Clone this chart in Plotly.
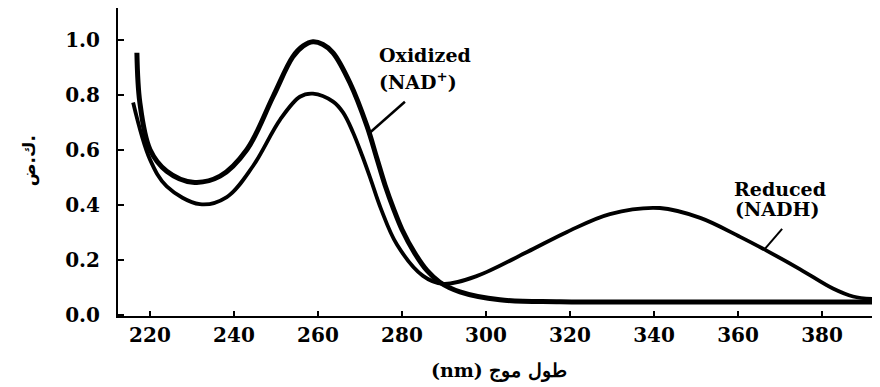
import plotly.graph_objects as go

# NAD+ (oxidized) absorption spectrum
nad_wl = [216.9, 217.6, 220.0, 224.0, 230.2, 236.7, 243.1, 249.3, 254.0, 256.5,
          258.8, 261.2, 263.6, 267.6, 271.7, 274.0, 276.0, 278.0, 280.0, 283.0,
          286.0, 289.0, 293.8, 303.3, 317.6, 351.0, 393.8]
nad_abs = [0.953, 0.772, 0.601, 0.522, 0.482, 0.504, 0.601, 0.793, 0.938, 0.978,
           0.993, 0.983, 0.953, 0.844, 0.685, 0.570, 0.470, 0.385, 0.310, 0.225,
           0.160, 0.118, 0.083, 0.054, 0.047, 0.046, 0.046]

# NADH (reduced) absorption spectrum
nadh_wl = [216.0, 220.0, 224.0, 231.9, 238.3, 244.5, 251.0, 255.7, 258.8, 263.6,
           266.0, 268.3, 270.5, 272.5, 275.0, 278.8, 285.0, 289.8, 297.9, 309.8,
           319.3, 329.5, 341.4, 351.0, 360.5, 366.9, 374.8, 382.6, 387.4, 393.8]
nadh_abs = [0.772, 0.565, 0.467, 0.402, 0.428, 0.540, 0.710, 0.793, 0.804, 0.775,
            0.735, 0.665, 0.580, 0.495, 0.385, 0.255, 0.141, 0.112, 0.141, 0.228,
            0.301, 0.366, 0.388, 0.352, 0.283, 0.232, 0.165, 0.095, 0.066, 0.055]

x_ticks = [220, 240, 260, 280, 300, 320, 340, 360, 380]
y_ticks = [0.0, 0.2, 0.4, 0.6, 0.8, 1.0]
y_tick_text = ["0.0", "0.2", "0.4", "0.6", "0.8", "1.0"]

FONT = "DejaVu Serif"

fig = go.Figure()
fig.add_trace(go.Scatter(x=nad_wl, y=nad_abs, mode="lines", name="Oxidized (NAD+)",
                         line=dict(color="black", width=5, shape="spline", smoothing=1.0)))
fig.add_trace(go.Scatter(x=nadh_wl, y=nadh_abs, mode="lines", name="Reduced (NADH)",
                         line=dict(color="black", width=3.8, shape="spline", smoothing=1.0)))

# leader lines for labels
fig.add_shape(type="line", x0=280.7, y0=0.775, x1=272.4, y1=0.663,
              line=dict(color="black", width=2.5), xref="x", yref="y")
fig.add_shape(type="line", x0=370.5, y0=0.312, x1=366.4, y1=0.239,
              line=dict(color="black", width=2), xref="x", yref="y")

lab_font = dict(family=FONT, size=19, color="black", weight="bold")
fig.add_annotation(x=285.5, y=0.946, text="Oxidized", showarrow=False, font=lab_font)
fig.add_annotation(x=283.8, y=0.851, text="(NAD<sup>+</sup>)", showarrow=False, font=lab_font)
fig.add_annotation(x=370.0, y=0.457, text="Reduced", showarrow=False, font=lab_font)
fig.add_annotation(x=369.5, y=0.384, text="(NADH)", showarrow=False, font=lab_font)

# y-axis title (Arabic abbreviation)
fig.add_annotation(xref="paper", yref="y", x=-0.116, y=0.56, xanchor="center", yanchor="middle",
                   text="ك.ض.", textangle=-90, showarrow=False,
                   font=dict(family="DejaVu Sans", size=17, color="black", weight="bold"))

# the page body adds an 8px offset, so the figure is sized to fit the 880x387 window
fig.update_layout(
    width=872, height=379,
    margin=dict(l=110, r=0, t=0, b=71),
    paper_bgcolor="white", plot_bgcolor="white",
    showlegend=False,
    font=dict(family=FONT, color="black"),
    xaxis=dict(range=[212.4, 393.8], tickvals=x_ticks, ticktext=[str(v) for v in x_ticks],
               showgrid=False, zeroline=False, showline=True, linecolor="black", linewidth=2,
               ticks="inside", ticklen=5, tickcolor="black", tickwidth=1.5,
               ticklabelstandoff=0,
               tickfont=dict(family=FONT, size=20, color="black", weight="bold"),
               title=dict(text="(nm) طول موج", standoff=18,
                          font=dict(family=FONT, size=19, color="black", weight="bold"))),
    yaxis=dict(range=[-0.005, 1.116], tickvals=y_ticks, ticktext=y_tick_text,
               showgrid=False, zeroline=False, showline=True, linecolor="black", linewidth=2,
               ticks="inside", ticklen=6, tickcolor="black", tickwidth=1.5,
               ticklabelstandoff=12,
               tickfont=dict(family=FONT, size=20, color="black", weight="bold")),
)

fig.write_html("out.html")
